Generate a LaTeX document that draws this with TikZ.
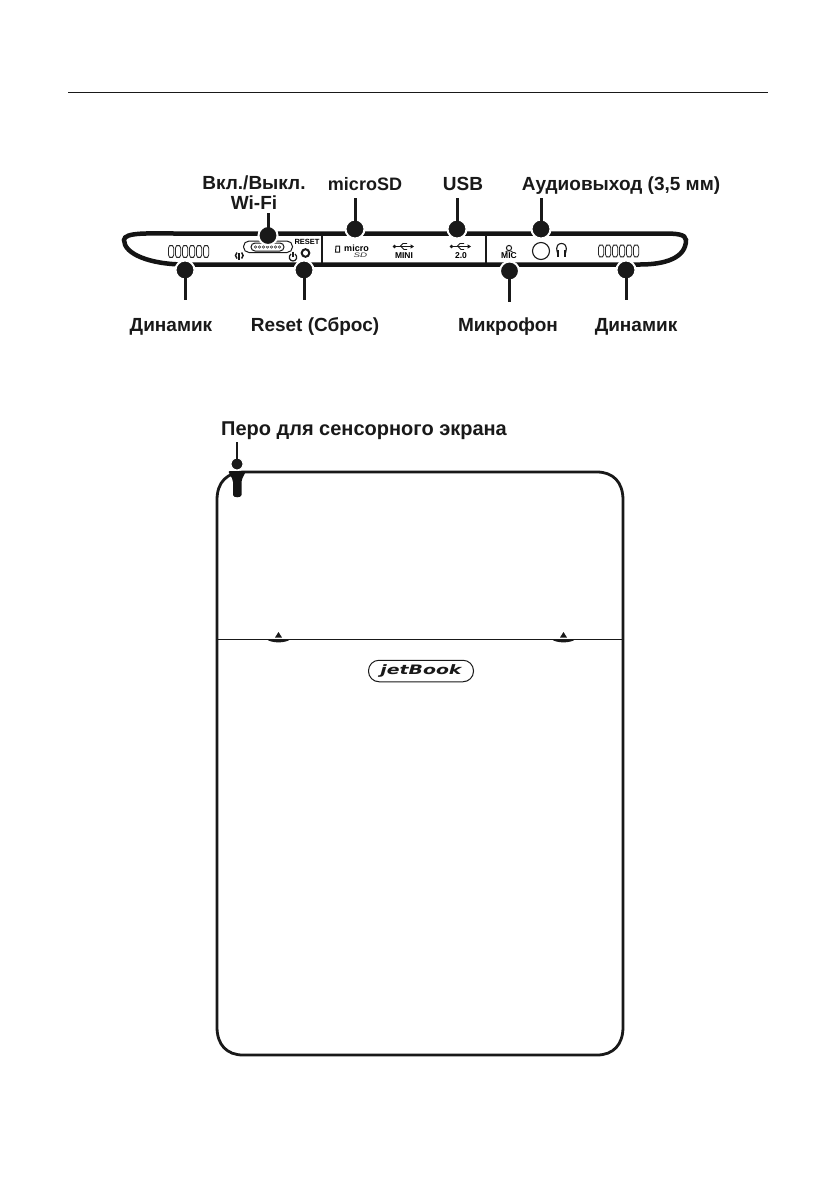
\documentclass[tikz,border=0pt]{standalone}
\usepackage{fontspec}
\setmainfont{Liberation Sans}
\newfontfamily\logofont{DejaVu Sans}
\tikzset{
 x=1pt,y=-1pt,
 lbl/.style={anchor=base,inner sep=0pt,align=center,text=black!90,font=\fontsize{19}{21}\selectfont\bfseries},
 tiny/.style={anchor=center,inner sep=0pt,font=\fontsize{7.5}{8}\selectfont\bfseries},
 leader/.style={line width=3pt,black!90},
 dot/.style={circle,fill=black!90,draw=white,line width=2pt,minimum size=19pt,inner sep=0pt},
 slot/.style={rounded corners=2.6pt,draw=black!85,line width=.8pt,fill=white},
 case/.style={line width=4.5pt,black!92},
 thin case/.style={line width=2.8pt,black!90},
}
\begin{document}
\begin{tikzpicture}
\useasboundingbox (0,0) rectangle (840,1192);
\fill[white] (0,0) rectangle (840,1192);
% header rule
\draw[line width=1pt,black!90] (68,92) -- (768,92);

% bar case
\draw[case] (664,233.5) -- (175,233.5) .. controls (150,233.5) and (124,232) .. (124,240)
  .. controls (124,254) and (150,264.5) .. (185,264.5) -- (640,264.5)
  .. controls (665,264.5) and (686,258) .. (686,240) .. controls (686,234) and (675,233.5) .. (664,233.5) -- cycle;
\draw[line width=1.2pt,black!90] (322,235) -- (322,263);
\draw[line width=1.2pt,black!90] (486,235) -- (486,263);

% speakers
\foreach \i in {0,...,5} {
 \draw[slot] ({168.5+\i*7},245.5) rectangle ({173.7+\i*7},257.5);
}
\foreach \i in {0,...,5} {
 \draw[slot] ({598.5+\i*7},245) rectangle ({603.7+\i*7},257);
}

% wifi switch
\draw[line width=1pt,black!90,rounded corners=5.5pt] (243.5,241) rectangle (292.5,252.5);
\draw[line width=1pt,black!90,rounded corners=4pt] (251,243) rectangle (284,251);
\foreach \i in {0,...,6} {
 \draw[line width=.5pt,black!80] ({255.5+\i*4},247) circle (1.3);
}
% wifi symbol
\draw[line width=2pt,black!90] (239.3,253) -- (239.3,259.5);
\draw[line width=1.5pt,black!90] (237,252.5) .. controls (235,254.5) and (235,256.5) .. (237,258.5);
\draw[line width=1.5pt,black!90] (241.6,252.5) .. controls (243.6,254.5) and (243.6,256.5) .. (241.6,258.5);
% power symbol
\draw[line width=1.2pt,black!90] (290.9,254) .. controls (287.5,257) and (290,261) .. (293,261) .. controls (296,261) and (298.5,257) .. (295.1,254);
\draw[line width=1.2pt,black!90] (293,251.5) -- (293,257);
% reset
\node[tiny] (resettext) at (307,241.5) {RESET};
\draw[line width=2pt,black!90] (305.5,253) circle (3.8);

% microSD icons
\draw[line width=1pt,black!90] (336,246) -- (339.5,246) -- (339.5,252) -- (335.5,252) -- cycle;
\node[anchor=center,inner sep=0pt,font=\fontsize{9}{10}\selectfont\bfseries] (micro) at (356.5,248) {micro};
\node[anchor=center,inner sep=0pt,font=\fontsize{6.5}{7}\selectfont\itshape,text=black!80,xscale=1.5] (sd) at (360.5,255) {SD};
% usb icons
\foreach \x/\t in {404/MINI,461/2.0} {
 \draw[line width=1.2pt,black!90] (\x-8,246.5) -- (\x+8,246.5);
 \fill[black!90] (\x+10,246.5) -- (\x+6.5,244.3) -- (\x+6.5,248.7) -- cycle;
 \fill[black!90] (\x-9.5,246.5) circle (1.9);
 \draw[line width=.9pt,black!90] (\x-4,246.5) -- (\x-1,243.5) -- (\x+3,243.5);
 \draw[line width=.9pt,black!90] (\x-3,246.5) -- (\x,249.5) -- (\x+3,249.5);
 \node[tiny,font=\fontsize{8.5}{9}\selectfont\bfseries] (usb\x) at (\x,256) {\t};
}
% mic
\draw[line width=1pt,black!90] (509,248) circle (2.6);
\draw[line width=.8pt,black!90] (505.5,252) .. controls (506,250.5) and (512,250.5) .. (512.5,252);
\node[tiny,font=\fontsize{8.5}{9}\selectfont\bfseries] (mictext) at (509,255.8) {MIC};
% audio
\node[circle,draw=black!90,line width=1.1pt,minimum size=17pt,inner sep=0pt] (jack) at (541,251) {};
\draw[line width=1.1pt,black!90] (557.5,253) .. controls (555,245) and (559,243.5) .. (561.5,243.5) .. controls (564,243.5) and (568,245) .. (565.5,253);
\fill[black!90] (556.8,250) rectangle (558.8,256.5);
\fill[black!90] (564.2,250) rectangle (566.2,256.5);

% dots and leaders
\coordinate (wifiend) at (268,213);
\coordinate (sdend) at (355,198);
\coordinate (usbend) at (457,198);
\coordinate (audend) at (541,198);
\coordinate (spkLend) at (185,300);
\coordinate (rstend) at (304,300);
\coordinate (micend) at (509.5,302);
\coordinate (spkRend) at (626,300);
\coordinate (penend) at (237,442);
\node[dot] (wifidot) at (268,235.5) {};
\node[dot] (sddot) at (355,229) {};
\node[dot] (usbdot) at (457,229) {};
\node[dot] (auddot) at (541,229) {};
\node[dot] (spkLdot) at (185,270) {};
\node[dot] (rstdot) at (304,270) {};
\node[dot] (micdot) at (509.5,271) {};
\node[dot] (spkRdot) at (626,270) {};
\foreach \a/\b in {wifidot/wifiend,sddot/sdend,usbdot/usbend,auddot/audend,spkLdot/spkLend,rstdot/rstend,micdot/micend,spkRdot/spkRend} {
 \draw[leader] (\a.center) -- (\b);
}

% labels
\node[lbl] (lwifi1) at (254,189.5) {Вкл./Выкл.};
\node[lbl] (lwifi2) at (254,209.5) {Wi-Fi};
\node[lbl,font=\fontsize{18}{20}\selectfont\bfseries] (lsd) at (365,190.5) {microSD};
\node[lbl] (lusb) at (463,190.5) {USB};
\node[lbl] (laud) at (621,190.5) {Аудиовыход (3,5 мм)};
\node[lbl] (lspkL) at (171,331) {Динамик};
\node[lbl] (lrst) at (315,331) {Reset (Сброс)};
\node[lbl] (lmic) at (508,331) {Микрофон};
\node[lbl] (lspkR) at (636,331) {Динамик};
\node[lbl,font=\fontsize{20}{22}\selectfont\bfseries] (lpen) at (364,435) {Перо для сенсорного экрана};

% device back
\draw[thin case] (245,472) -- (597,472) .. controls (613,472) and (623,482) .. (623,500) -- (623,1027)
  .. controls (623,1045) and (613,1055) .. (597,1055) -- (243,1055)
  .. controls (227,1055) and (217,1045) .. (217,1027) -- (217,500) .. controls (217,482) and (227,472) .. (245,472) -- cycle;
\draw[line width=1.2pt,black!90] (217,639.5) -- (623,639.5);
% stylus
\fill[black!92,rounded corners=2pt] (228,471) -- (246,471) -- (241.5,480) -- (241.5,493) .. controls (241.5,498) and (233,498) .. (233,493) -- (233,480) -- cycle;
\node[circle,fill=black!90,draw=white,line width=1pt,minimum size=12pt,inner sep=0pt] (pendot) at (237,464) {};
\draw[line width=2pt,black!90] (pendot.center) -- (penend);
% clips
\foreach \x in {278.5,563.5} {
 \fill[black!90] (\x-3.5,637.5) -- (\x,632) -- (\x+3.5,637.5) -- cycle;
 \fill[black!90] (\x-12,639) .. controls (\x-8,643.5) and (\x+8,643.5) .. (\x+12,639) -- cycle;
}
% logo
\node[draw=black!90,line width=1pt,rounded corners=10.5pt,minimum width=105pt,minimum height=21.5pt,inner sep=0pt] (logo) at (421,671) {};
\node[inner sep=0pt,xscale=1.45,font=\logofont\fontsize{13}{13}\selectfont\bfseries\itshape,text=black!90] (logotext) at (logo.center) {jetBook};
\end{tikzpicture}
\end{document}
